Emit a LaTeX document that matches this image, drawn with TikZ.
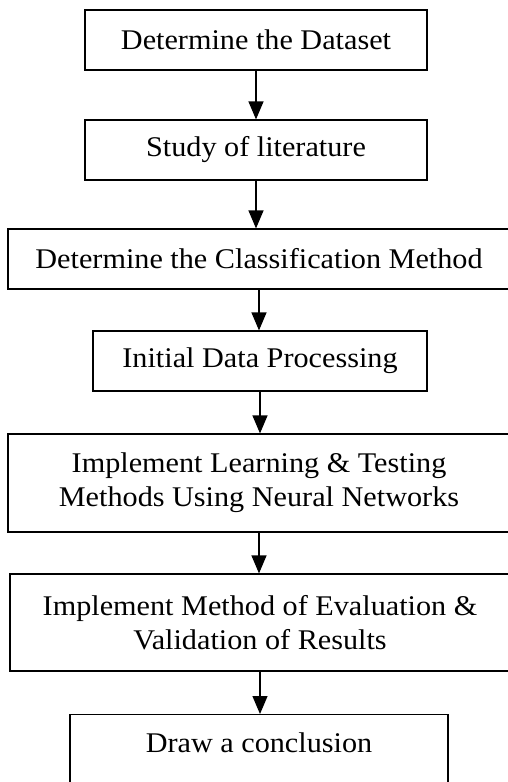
\documentclass[tikz,border=0pt]{standalone}
\usepackage{fontspec}
\setmainfont[FakeStretch=1.06]{Liberation Serif}
\usetikzlibrary{arrows.meta}
\begin{document}
\begin{tikzpicture}[x=1pt,y=-1pt,
  stepbox/.style={draw=black, line width=1.2pt, inner sep=0pt, align=center,
    font=\fontsize{28.5}{34}\selectfont},
  flow/.style={-{Triangle[width=15pt,length=18pt]}, line width=1.2pt}]
\useasboundingbox (0,0) rectangle (508,782);
\node[stepbox, minimum width=342pt, minimum height=60pt] (a) at (256,40) {Determine the Dataset};
\node[stepbox, minimum width=342pt, minimum height=60pt] (b) at (256,150) {Study of literature};
\node[stepbox, minimum width=502pt, minimum height=60pt] (c) at (259,259) {Determine the Classification Method};
\node[stepbox, minimum width=334pt, minimum height=60pt] (d) at (260,361) {Initial Data Processing};
\node[stepbox, minimum width=502pt, minimum height=98pt] (e) at (259,483) {Implement Learning \& Testing\\Methods Using Neural Networks};
\node[stepbox, minimum width=500pt, minimum height=97pt] (f) at (260,622.5) {Implement Method of Evaluation \&\\Validation of Results};
\node[stepbox, minimum width=378pt, text height=38pt, text depth=45pt, anchor=north] (g) at (259,714) {Draw a conclusion};
\draw[flow] (a.south) -- (a.south |- b.north);
\draw[flow] (b.south) -- (b.south |- c.north);
\draw[flow] (c.south) -- (c.south |- d.north);
\draw[flow] (d.south) -- (d.south |- e.north);
\draw[flow] (e.south) -- (e.south |- f.north);
\draw[flow] (f.south) -- (f.south |- g.north);
\end{tikzpicture}
\end{document}
